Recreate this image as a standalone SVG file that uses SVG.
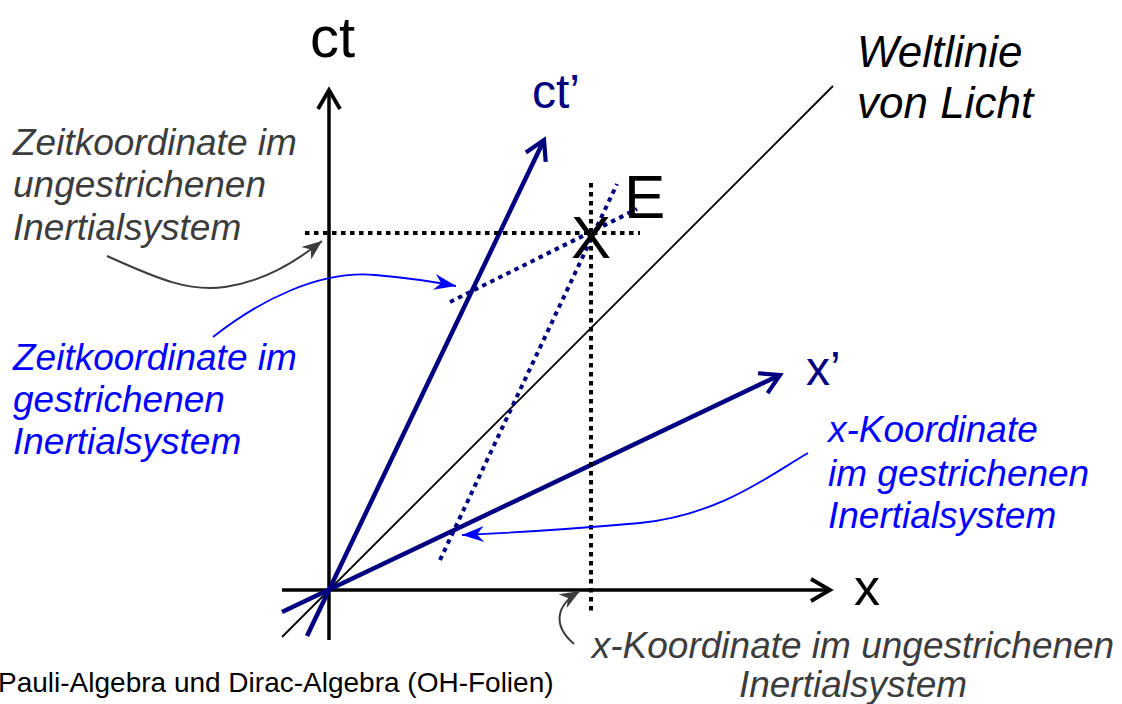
<svg xmlns="http://www.w3.org/2000/svg" width="1122" height="704" viewBox="0 0 1122 704">
<style>
.t{font-family:"Liberation Sans",Arial,sans-serif}
.it{font-family:"Liberation Sans",Arial,sans-serif;font-style:italic;font-size:37px}
.grey{fill:#3c3c3c}
.blue{fill:#0000ff}
.navy{fill:#000080}
.axis{stroke:#000;stroke-width:3.5;fill:none}
.prime{stroke:#000080;stroke-width:4.5;fill:none}
.dotk{stroke:#000;stroke-width:4;stroke-dasharray:4.5 4.5;fill:none}
.dotn{stroke:#000080;stroke-width:4;stroke-dasharray:4.5 4.5;fill:none}
.cg{stroke:#3c3c3c;stroke-width:2;fill:none}
.cb{stroke:#0000ff;stroke-width:1.8;fill:none}
</style>
<defs>
<marker id="chevK" markerUnits="userSpaceOnUse" orient="auto" refX="0" refY="0" markerWidth="30" markerHeight="30" viewBox="-25 -15 30 30" overflow="visible">
<path d="M-19,-11 L0,0 L-19,11" fill="none" stroke="#000" stroke-width="3.8"/>
</marker>
<marker id="chevN" markerUnits="userSpaceOnUse" orient="auto" refX="0" refY="0" markerWidth="30" markerHeight="30" viewBox="-25 -15 30 30" overflow="visible">
<path d="M-19,-11 L0,0 L-19,11" fill="none" stroke="#000080" stroke-width="4.2"/>
</marker>
<marker id="barbG" markerUnits="userSpaceOnUse" orient="auto" refX="0" refY="0" markerWidth="30" markerHeight="30" viewBox="-25 -15 30 30" overflow="visible">
<path d="M0,0 L-20,-8 L-14,0 L-20,8 Z" fill="#3c3c3c"/>
</marker>
<marker id="barbB" markerUnits="userSpaceOnUse" orient="auto" refX="0" refY="0" markerWidth="30" markerHeight="30" viewBox="-25 -15 30 30" overflow="visible">
<path d="M0,0 L-22,-8 L-15,0 L-22,8 Z" fill="#0000ff"/>
</marker>
</defs>
<rect width="1122" height="704" fill="#fff"/>

<g id="axes">
<line class="axis" x1="329" y1="640" x2="329" y2="90" marker-end="url(#chevK)"/>
<line class="axis" x1="282" y1="590" x2="830" y2="590" marker-end="url(#chevK)"/>
<line x1="282" y1="637" x2="833" y2="86" stroke="#000" stroke-width="1.8"/>
<line class="prime" x1="307" y1="636" x2="544" y2="140" marker-end="url(#chevN)"/>
<line class="prime" x1="282" y1="612" x2="780" y2="375" marker-end="url(#chevN)"/>
</g>

<g id="dotted">
<line class="dotk" x1="305" y1="233" x2="640" y2="233"/>
<line class="dotk" x1="591" y1="183" x2="591" y2="614"/>
<line class="dotn" x1="450" y1="302" x2="637" y2="209"/>
<line class="dotn" x1="440" y1="560" x2="617" y2="184"/>
</g>

<g id="event">
<text class="t" x="591" y="258" font-size="60" text-anchor="middle" fill="#000">X</text>
<text class="t" x="624" y="218" font-size="62" fill="#000">E</text>
</g>

<g id="axis-labels">
<text class="t" x="310" y="57" font-size="58" fill="#000">ct</text>
<text class="t navy" x="532" y="108" font-size="48">ct’</text>
<text class="t navy" x="806" y="385" font-size="48">x’</text>
<text class="t" x="854" y="605" font-size="52" fill="#000">x</text>
</g>

<g id="label-light">
<text class="t" font-style="italic" font-size="44" fill="#000"><tspan x="857" y="67">Weltlinie</tspan><tspan x="857" y="118">von Licht</tspan></text>
</g>

<g id="label-time-unprimed">
<text class="it grey"><tspan x="13" y="155">Zeitkoordinate im</tspan><tspan x="13" y="197">ungestrichenen</tspan><tspan x="13" y="240">Inertialsystem</tspan></text>
</g>

<g id="label-time-primed">
<text class="it blue"><tspan x="13" y="370">Zeitkoordinate im</tspan><tspan x="13" y="412">gestrichenen</tspan><tspan x="13" y="454">Inertialsystem</tspan></text>
</g>

<g id="label-x-primed">
<text class="it blue"><tspan x="828" y="442">x-Koordinate</tspan><tspan x="828" y="486">im gestrichenen</tspan><tspan x="828" y="528">Inertialsystem</tspan></text>
</g>

<g id="label-x-unprimed">
<text class="it grey" text-anchor="middle"><tspan x="853" y="658">x-Koordinate im ungestrichenen</tspan><tspan x="853" y="697">Inertialsystem</tspan></text>
</g>

<g id="footer">
<text class="t" x="-2" y="692" font-size="28" fill="#000">Pauli-Algebra und Dirac-Algebra (OH-Folien)</text>
</g>

<g id="connectors">
<path class="cg" d="M107,256 C160,280 190,292 225,287 C265,281 295,262 322,241" marker-end="url(#barbG)"/>
<path class="cb" d="M213,337 C260,300 320,270 375,275 C410,278 435,282 456,286" marker-end="url(#barbB)"/>
<path class="cb" d="M808,453 C770,475 720,515 640,523 C560,530 510,533 462,535" marker-end="url(#barbB)"/>
<path class="cg" d="M574,644 C552,625 556,605 580,591" marker-end="url(#barbG)"/>
</g>
</svg>
